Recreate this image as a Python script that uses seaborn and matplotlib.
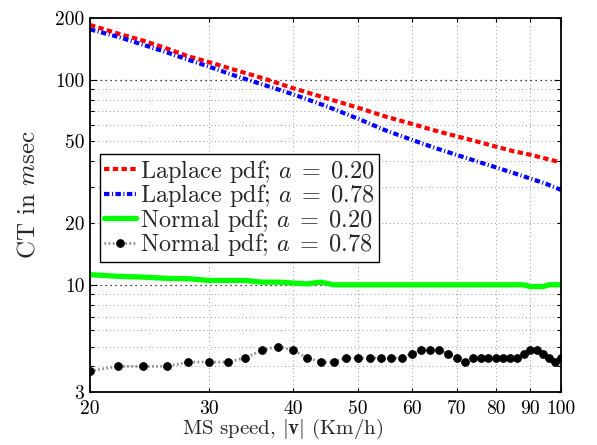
import numpy as np
import pandas as pd
import matplotlib
matplotlib.use("Agg")
import matplotlib.pyplot as plt
import seaborn as sns
from matplotlib.ticker import LogLocator, FuncFormatter

# ---------------- data ----------------
speed_lap = [20, 22, 24, 26, 28, 30, 33, 36, 40, 45, 50, 55, 60, 65, 70, 75, 80, 85, 90, 95, 100]
laplace_020 = [185, 168, 155, 142, 130, 122, 111, 102, 91, 81, 73, 66, 61, 56.5, 53, 50, 47.2, 44.8, 43.1, 41.2, 39.5]
laplace_078 = [176, 162, 148, 136, 125, 116, 104, 95, 85, 74, 64.5, 56.5, 51, 46.5, 43, 40, 37.4, 35.1, 33, 31.1, 29]

speed_norm = [20, 22, 24, 26, 28, 30, 32, 34, 36, 38, 40, 42, 44, 46, 48, 50, 52, 54, 56, 58,
              60, 62, 64, 66, 68, 70, 72, 74, 76, 78, 80, 82, 84, 86, 88, 90, 92, 94, 96, 98, 100]
normal_020 = [11.2, 11.0, 10.9, 10.75, 10.7, 10.5, 10.5, 10.5, 10.3, 10.3, 10.2, 10.1, 10.3, 10.0, 10.0,
              10.0, 10.0, 10.0, 10.0, 10.0, 10.0, 10.0, 10.0, 10.0, 10.0, 10.0, 10.0, 10.0, 10.0, 10.0,
              10.0, 10.0, 10.0, 10.0, 10.0, 9.8, 9.8, 9.8, 10.0, 10.0, 10.0]
normal_078 = [3.8, 4.0, 4.0, 4.0, 4.2, 4.2, 4.2, 4.4, 4.8, 5.0, 4.8, 4.4, 4.2, 4.2, 4.4, 4.4, 4.4, 4.4,
              4.4, 4.4, 4.6, 4.8, 4.8, 4.8, 4.6, 4.4, 4.2, 4.4, 4.4, 4.4, 4.4, 4.4, 4.4, 4.4, 4.6, 4.8,
              4.8, 4.6, 4.4, 4.2, 4.4]

series_labels = [r"Laplace pdf; $a\;=\;0.20$", r"Laplace pdf; $a\;=\;0.78$",
                 r"Normal pdf; $a\;=\;0.20$", r"Normal pdf; $a\;=\;0.78$"]
xtick_values = [20, 30, 40, 50, 60, 70, 80, 90, 100]
ytick_values = [3, 10, 20, 50, 100, 200]

# ---------------- style ----------------
sns.set_style("ticks")
plt.rcParams["font.family"] = ["cmr10", "DejaVu Serif"]
plt.rcParams["mathtext.fontset"] = "cm"
plt.rcParams["axes.unicode_minus"] = False
plt.rcParams["axes.formatter.use_mathtext"] = True

fig = plt.figure(figsize=(5.97, 4.45), dpi=100)
ax = fig.add_axes([90 / 597, 1 - 392 / 445, 471 / 597, 374 / 445])

df_lap = pd.DataFrame({"speed": speed_lap, "l020": laplace_020, "l078": laplace_078})
df_norm = pd.DataFrame({"speed": speed_norm, "n020": normal_020, "n078": normal_078})

sns.lineplot(data=df_lap, x="speed", y="l020", ax=ax, color=(1, 0, 0), lw=3.0,
             linestyle=(0, (1.3, 0.8)), dash_capstyle="butt", label=series_labels[0])
sns.lineplot(data=df_lap, x="speed", y="l078", ax=ax, color=(0, 0, 1), lw=3.0,
             linestyle=(0, (1.3, 0.6, 0.25, 0.6)), dash_capstyle="butt", label=series_labels[1])
sns.lineplot(data=df_norm, x="speed", y="n020", ax=ax, color=(0, 1, 0), lw=3.8,
             linestyle="-", label=series_labels[2])
sns.lineplot(data=df_norm, x="speed", y="n078", ax=ax, color="0.55", lw=2.0,
             linestyle=(0, (0.6, 0.9)), marker="o", markersize=5.5,
             markerfacecolor="k", markeredgecolor="k", label=series_labels[3])

ax.set_xscale("log")
ax.set_yscale("log")
ax.set_xlim(20, 100)
ax.set_ylim(3, 200)

ax.xaxis.set_major_locator(LogLocator(base=10))
ax.xaxis.set_minor_locator(LogLocator(base=10, subs=np.arange(2, 10)))
ax.yaxis.set_major_locator(LogLocator(base=10))
ax.yaxis.set_minor_locator(LogLocator(base=10, subs=np.arange(2, 10)))


def make_fmt(allowed):
    def f(v, pos):
        for t in allowed:
            if abs(v - t) < 1e-6 * t:
                return f"{t:g}"
        return ""
    return FuncFormatter(f)


ax.xaxis.set_major_formatter(make_fmt(xtick_values))
ax.xaxis.set_minor_formatter(make_fmt(xtick_values))
ax.yaxis.set_major_formatter(make_fmt(ytick_values))
ax.yaxis.set_minor_formatter(make_fmt(ytick_values))

ax.tick_params(which="both", direction="in", top=True, right=True, labelsize=14,
               width=0.8, colors="k")
ax.tick_params(which="major", length=5)
ax.tick_params(which="minor", length=3)
ax.tick_params(axis="x", which="both", pad=6)
ax.tick_params(axis="y", which="both", pad=4)

ax.set_axisbelow(True)
ax.grid(which="major", axis="y", color="k", linestyle=(0, (1, 3)), lw=0.9)
ax.grid(which="minor", axis="both", color="0.6", linestyle=(0, (1, 3)), lw=0.7)

for s in ax.spines.values():
    s.set_color("k")
    s.set_linewidth(1.3)

ax.set_xlabel(r"MS speed, $|\mathbf{v}|$ (Km/h)", fontsize=15)
ax.set_ylabel(r"CT in $m$sec", fontsize=18)
ax.xaxis.set_label_coords(0.409, -0.066)
ax.xaxis.label.set_verticalalignment("top")
ax.yaxis.set_label_coords(-0.108, 0.527)

leg = ax.legend(loc="upper left", bbox_to_anchor=(0.021, 0.636), borderaxespad=0,
                fontsize=17.5, frameon=True, fancybox=False, framealpha=1,
                edgecolor="k", handlelength=1.35, handletextpad=0.15,
                labelspacing=-0.1, borderpad=0.15)
leg.get_frame().set_linewidth(1.0)

fig.savefig("out.png", dpi=100)
